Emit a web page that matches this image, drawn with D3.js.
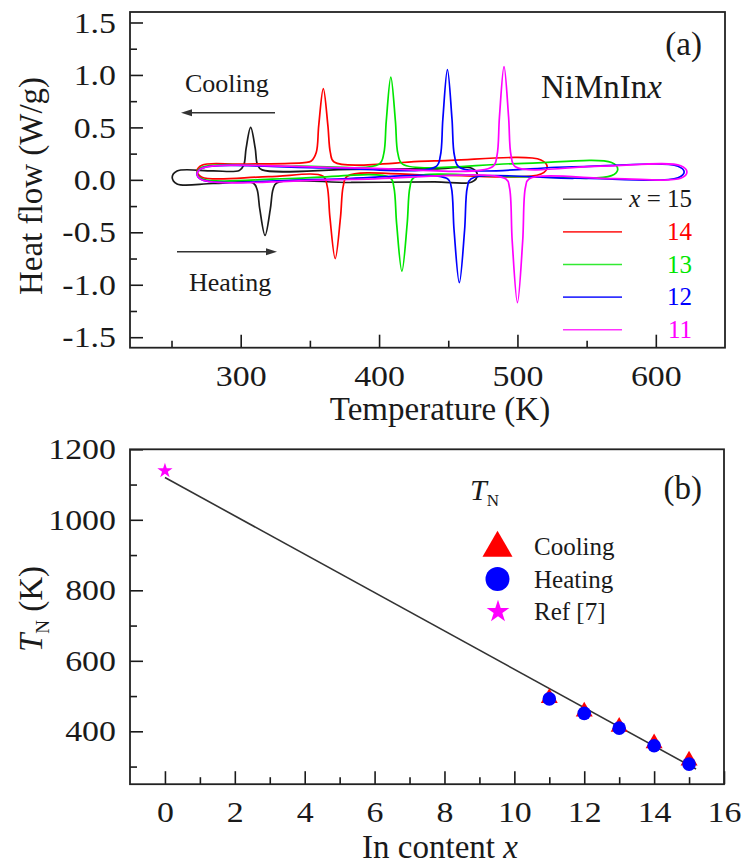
<!DOCTYPE html>
<html>
<head>
<meta charset="utf-8">
<script src="https://cdn.jsdelivr.net/npm/d3@7"></script>
<style>
  html, body { margin: 0; padding: 0; background: #fff; }
  svg { display: block; }
  text { font-family: "Liberation Serif", "Times New Roman", serif; fill: #1a1a1a; }
</style>
</head>
<body>
<svg id="fig" width="744" height="868"></svg>
<script>
// ---------- (a) DSC heat-flow loops, NiMnIn_x ----------
// Each loop: heating branch from low to high T, then cooling branch back down.
const loopT15 = [250.5, 254, 280, 309, 311.8, 313.8, 317.6, 321.4, 323.4, 326, 380, 440, 467, 471, 467, 440, 380, 315.5, 312.2, 310.5, 307.2, 303.9, 302.2, 299, 280, 254];
const loopQ15 = [0.025, -0.04, -0.035, -0.03, -0.09, -0.28, -0.53, -0.28, -0.09, -0.03, -0.025, -0.02, -0.02, 0.045, 0.11, 0.105, 0.1, 0.095, 0.14, 0.3, 0.5, 0.3, 0.14, 0.09, 0.085, 0.085];

const loopT14 = [268.5, 272, 320, 359.5, 362.5, 364.5, 368.3, 372.1, 374.1, 377, 440, 517, 521.5, 517, 440, 367.5, 364.8, 363, 359.7, 356.4, 354.6, 351, 346, 300, 272];
const loopQ14 = [0.085, 0.025, 0.03, 0.035, -0.06, -0.36, -0.75, -0.36, -0.06, 0.035, 0.045, 0.055, 0.122, 0.19, 0.18, 0.17, 0.26, 0.52, 0.87, 0.52, 0.26, 0.18, 0.165, 0.15, 0.14];

const loopT13 = [268.5, 272, 340, 408, 410.7, 412.7, 416.5, 420.3, 422.3, 425, 500, 568, 572.5, 568, 500, 417, 413.6, 411.8, 408.5, 405.2, 403.4, 400, 340, 272];
const loopQ13 = [0.065, 0.01, 0.015, 0.02, -0.07, -0.42, -0.87, -0.42, -0.07, 0.02, 0.03, 0.04, 0.102, 0.165, 0.155, 0.15, 0.25, 0.56, 0.98, 0.56, 0.25, 0.15, 0.13, 0.12];

const loopT12 = [268.5, 272, 360, 449.5, 452.2, 454.2, 458, 461.8, 463.8, 466.5, 540, 616, 620.5, 616, 540, 458, 454.5, 452.7, 449.4, 446.1, 444.3, 441, 360, 272];
const loopQ12 = [0.055, 0.0, 0.005, 0.01, -0.07, -0.48, -0.98, -0.48, -0.07, 0.01, 0.015, 0.02, 0.075, 0.13, 0.125, 0.12, 0.23, 0.58, 1.05, 0.58, 0.23, 0.125, 0.115, 0.11];

const loopT11 = [268.5, 272, 380, 491.5, 494.2, 496.2, 500, 503.8, 505.8, 508.5, 570, 618, 622.5, 618, 560, 498.5, 495.4, 493.6, 490.3, 487, 485.2, 482, 380, 272];
const loopQ11 = [0.055, 0.0, 0.005, 0.01, -0.07, -0.58, -1.17, -0.58, -0.07, 0.01, 0.012, 0.015, 0.075, 0.135, 0.13, 0.125, 0.23, 0.6, 1.08, 0.6, 0.23, 0.125, 0.115, 0.11];

const sampleX = [15, 14, 13, 12, 11];
const sampleColors = ["#1a1a1a", "#ff0000", "#00e600", "#0000ff", "#ff00ff"];
const loopsT = [loopT15, loopT14, loopT13, loopT12, loopT11];
const loopsQ = [loopQ15, loopQ14, loopQ13, loopQ12, loopQ11];

const tempTicks = [300, 400, 500, 600];
const tempMinor = [250, 350, 450, 550];
const heatTicks = [-1.5, -1.0, -0.5, 0.0, 0.5, 1.0, 1.5];
const heatMinor = [-1.25, -0.75, -0.25, 0.25, 0.75, 1.25];

// ---------- (b) Néel temperature vs In content ----------
const contentX  = [11, 12, 13, 14, 15];
const tnCooling = [494, 456, 413, 366, 317];
const tnHeating = [492, 451, 409, 359, 307];
const refX  = [0];
const refTN = [1139];
const fitX  = [0, 15.2];
const fitTN = [1120, 293];

const contentTicks = [0, 2, 4, 6, 8, 10, 12, 14, 16];
const contentMinor = [1, 3, 5, 7, 9, 11, 13, 15];
const tnTicks = [400, 600, 800, 1000, 1200];
const tnMinor = [300, 500, 700, 900, 1100];

// ---------- layout ----------
const svg = d3.select("#fig");
const boxA = { left: 130, right: 725, top: 12, bottom: 347.7 };
const boxB = { left: 130, right: 724, top: 449.3, bottom: 784.2 };
const INK = "#1a1a1a";
const TICK_SX = 1.13;

const xA = d3.scaleLinear().domain([220, 650]).range([boxA.left, boxA.right]);
const yA = d3.scaleLinear().domain([-1.6, 1.6]).range([boxA.bottom, boxA.top]);
const xB = d3.scaleLinear().domain([-1, 16]).range([boxB.left, boxB.right]);
const yB = d3.scaleLinear().domain([250, 1200]).range([boxB.bottom, boxB.top]);

function styleAxis(g) {
  g.attr("font-family", "Liberation Serif, Times New Roman, serif")
   .attr("font-size", 30).attr("color", INK);
  g.select(".domain").remove();
  g.selectAll(".tick line").attr("stroke-width", 1.6);
  g.selectAll(".tick text").each(function () {
    const t = d3.select(this);
    const x = +t.attr("x") || 0;
    t.attr("x", x / TICK_SX).attr("transform", `scale(${TICK_SX},1)`);
  });
}

function drawAxes(box, xs, ys, xMaj, xMin, yMaj, yMin, xFmt, yFmt) {
  svg.append("g").attr("transform", `translate(0,${box.bottom})`)
    .call(d3.axisBottom(xs).tickValues(xMaj).tickSize(-13).tickPadding(17).tickFormat(xFmt))
    .call(styleAxis);
  svg.append("g").attr("transform", `translate(0,${box.bottom})`)
    .call(d3.axisBottom(xs).tickValues(xMin).tickSize(-7).tickFormat(""))
    .call(styleAxis);
  svg.append("g").attr("transform", `translate(${box.left},0)`)
    .call(d3.axisLeft(ys).tickValues(yMaj).tickSize(-13).tickPadding(14).tickFormat(yFmt))
    .call(styleAxis);
  svg.append("g").attr("transform", `translate(${box.left},0)`)
    .call(d3.axisLeft(ys).tickValues(yMin).tickSize(-7).tickFormat(""))
    .call(styleAxis);
  svg.append("rect")
    .attr("x", box.left).attr("y", box.top)
    .attr("width", box.right - box.left).attr("height", box.bottom - box.top)
    .attr("fill", "none").attr("stroke", "#222").attr("stroke-width", 1.8);
}

// ---------- panel (a) ----------
drawAxes(boxA, xA, yA, tempTicks, tempMinor, heatTicks, heatMinor,
  d => String(d), d => d.toFixed(1));

const loopLine = d3.line()
  .x(d => xA(d[0])).y(d => yA(d[1]))
  .curve(d3.curveCatmullRomClosed.alpha(0.5));

const gLoops = svg.append("g");
loopsT.forEach((ts, i) => {
  const pts = ts.map((t, k) => [t, loopsQ[i][k]]);
  gLoops.append("path")
    .attr("d", loopLine(pts))
    .attr("fill", "none")
    .attr("stroke", sampleColors[i])
    .attr("stroke-width", 1.7)
    .attr("stroke-linejoin", "round");
});

// legend for (a)
const legA = svg.append("g");
sampleX.forEach((sx, i) => {
  const yRow = 199.3 + i * 32.6;
  legA.append("line")
    .attr("x1", 563).attr("x2", 622).attr("y1", yRow).attr("y2", yRow)
    .attr("stroke", sampleColors[i]).attr("stroke-width", 1.6).attr("opacity", 0.8);
  const t = legA.append("text")
    .attr("x", 692).attr("y", yRow + 8)
    .attr("text-anchor", "end").attr("font-size", 25)
    .style("fill", sampleColors[i]);
  if (i === 0) {
    t.append("tspan").attr("font-style", "italic").text("x");
    t.append("tspan").text(" = " + sx);
  } else {
    t.text(String(sx));
  }
});

svg.append("text").attr("x", 702).attr("y", 55).attr("text-anchor", "end")
  .attr("font-size", 33).text("(a)");
const nm = svg.append("text").attr("x", 541).attr("y", 98).attr("font-size", 33);
nm.append("tspan").text("NiMnIn");
nm.append("tspan").attr("font-style", "italic").text("x");

// cooling / heating arrows
function arrow(x1, x2, y) {
  const dir = Math.sign(x2 - x1);
  svg.append("line").attr("x1", x1).attr("x2", x2 - dir * 8).attr("y1", y).attr("y2", y)
    .attr("stroke", "#333").attr("stroke-width", 1.6);
  svg.append("path")
    .attr("d", `M${x2},${y} L${x2 - dir * 11},${y - 3.5} L${x2 - dir * 11},${y + 3.5} Z`)
    .attr("fill", "#333");
}
svg.append("text").attr("x", 185).attr("y", 91.7).attr("font-size", 26).text("Cooling");
arrow(275, 181, 112.7);
svg.append("text").attr("x", 189).attr("y", 291).attr("font-size", 26).text("Heating");
arrow(177, 277, 251.7);

// axis titles (a)
svg.append("text").attr("x", 440).attr("y", 420).attr("text-anchor", "middle")
  .attr("font-size", 33).text("Temperature (K)");
svg.append("text").attr("transform", "translate(42,186) rotate(-90)")
  .attr("text-anchor", "middle").attr("font-size", 33).text("Heat flow (W/g)");

// ---------- panel (b) ----------
drawAxes(boxB, xB, yB, contentTicks, contentMinor, tnTicks, tnMinor,
  d => String(d), d => String(d));

svg.append("path")
  .datum(fitX.map((x, i) => [x, fitTN[i]]))
  .attr("d", d3.line().x(d => xB(d[0])).y(d => yB(d[1])))
  .attr("stroke", "#333").attr("stroke-width", 1.6).attr("fill", "none");

const triSym = d3.symbol().type(d3.symbolTriangle);
const starSym = d3.symbol().type(d3.symbolStar);

svg.append("g").selectAll("path")
  .data(contentX.map((x, i) => [x, tnCooling[i]]))
  .join("path")
  .attr("transform", d => `translate(${xB(d[0])},${yB(d[1])})`)
  .attr("d", triSym.size(125)())
  .attr("fill", "#ff0000");

svg.append("g").selectAll("circle")
  .data(contentX.map((x, i) => [x, tnHeating[i]]))
  .join("circle")
  .attr("cx", d => xB(d[0])).attr("cy", d => yB(d[1])).attr("r", 6.8)
  .attr("fill", "#0000ff");

svg.append("g").selectAll("path")
  .data(refX.map((x, i) => [x, refTN[i]]))
  .join("path")
  .attr("transform", d => `translate(${xB(d[0])},${yB(d[1])})`)
  .attr("d", starSym.size(72)())
  .attr("fill", "#ff00ff");

// legend for (b)
svg.append("path").attr("transform", "translate(497.5,548)")
  .attr("d", triSym.size(390)()).attr("fill", "#ff0000");
svg.append("circle").attr("cx", 497.5).attr("cy", 579).attr("r", 12).attr("fill", "#0000ff");
svg.append("path").attr("transform", "translate(498,611.7)")
  .attr("d", starSym.size(160)()).attr("fill", "#ff00ff");
svg.append("text").attr("x", 534).attr("y", 555).attr("font-size", 25).text("Cooling");
svg.append("text").attr("x", 534).attr("y", 588).attr("font-size", 25).text("Heating");
svg.append("text").attr("x", 534).attr("y", 620).attr("font-size", 25).text("Ref [7]");

// T_N annotation and panel tag
const tn = svg.append("text").attr("x", 470).attr("y", 500).attr("font-size", 30);
tn.append("tspan").attr("font-style", "italic").text("T");
tn.append("tspan").attr("font-size", 17).attr("dy", 6).text("N");
svg.append("text").attr("x", 702).attr("y", 499).attr("text-anchor", "end")
  .attr("font-size", 33).text("(b)");

// axis titles (b)
const xt = svg.append("text").attr("x", 440).attr("y", 858).attr("text-anchor", "middle")
  .attr("font-size", 33);
xt.append("tspan").text("In content ");
xt.append("tspan").attr("font-style", "italic").text("x");

const yt = svg.append("text").attr("transform", "translate(42,609) rotate(-90)")
  .attr("text-anchor", "middle").attr("font-size", 33);
yt.append("tspan").attr("font-style", "italic").text("T");
yt.append("tspan").attr("font-size", 19).attr("dy", 7).text("N");
yt.append("tspan").attr("dy", -7).text(" (K)");
</script>
</body>
</html>
